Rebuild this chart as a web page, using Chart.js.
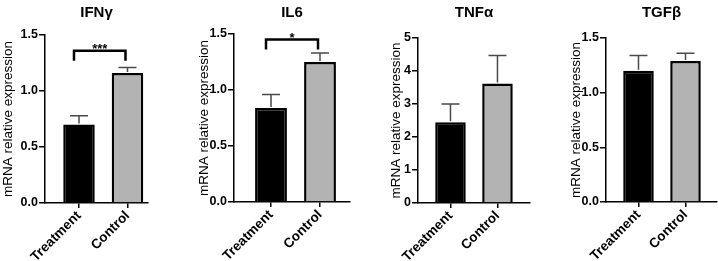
<!DOCTYPE html>
<html>
<head>
<meta charset="utf-8">
<script src="https://cdn.jsdelivr.net/npm/chart.js@4.4.0/dist/chart.umd.min.js"></script>
<style>
  body { margin: 0; background: #fff; width: 718px; height: 261px; position: relative; overflow: hidden; }
  canvas { position: absolute; top: 0; }
</style>
</head>
<body>
<canvas id="c0"></canvas>
<canvas id="c1"></canvas>
<canvas id="c2"></canvas>
<canvas id="c3"></canvas>
<script>
// data
const groups = ['Treatment', 'Control'];
const genes = ['IFNγ', 'IL6', 'TNFα', 'TGFβ'];
const treatmentMean = [0.70, 0.84, 2.45, 1.20];
const treatmentErr = [0.08, 0.12, 0.55, 0.14];
const controlMean = [1.16, 1.25, 3.62, 1.29];
const controlErr = [0.05, 0.08, 0.85, 0.07];
const yMax = [1.5, 1.5, 5, 1.5];
const yStep = [0.5, 0.5, 1, 0.5];
const yDecimals = [1, 1, 0, 1];
const sigMarks = ['***', '*', '', ''];
const sigLevel = [1.36, 1.45, null, null];

// panel placement
const panels = [
  { left: 0,   width: 150, axisW: 45, top: 35, bottom: 203, xMin: -0.701, xMax: 1.423, padR: 2 },
  { left: 196, width: 156, axisW: 38, top: 34, bottom: 202, xMin: -0.755, xMax: 1.612, padR: 2 },
  { left: 388, width: 144, axisW: 30, top: 38, bottom: 203, xMin: -0.691, xMax: 1.692, padR: 2 },
  { left: 568, width: 150, axisW: 38, top: 38, bottom: 202, xMin: -0.691, xMax: 1.670, padR: 1 }
];

const FONT = '"Liberation Sans", Arial, sans-serif';
Chart.defaults.font.family = FONT;
Chart.defaults.color = '#000';

// error bars + significance bracket
const extras = {
  id: 'extras',
  afterDatasetsDraw(chart, args, opts) {
    const ctx = chart.ctx;
    const ys = chart.scales.y;
    const bars = chart.getDatasetMeta(0).data;
    const vals = chart.data.datasets[0].data;
    ctx.save();
    ctx.strokeStyle = '#4a4a4a';
    ctx.lineWidth = 1.5;
    bars.forEach((bar, j) => {
      const y0 = ys.getPixelForValue(vals[j].y);
      const y1 = ys.getPixelForValue(vals[j].y + opts.errs[j]);
      ctx.beginPath();
      ctx.moveTo(bar.x, y0 - 1);
      ctx.lineTo(bar.x, y1);
      ctx.moveTo(bar.x - 9, y1);
      ctx.lineTo(bar.x + 9, y1);
      ctx.stroke();
    });
    if (opts.sig) {
      const yl = ys.getPixelForValue(opts.sigY);
      const xl = bars[0].x - 5, xr = bars[1].x - 2;
      ctx.strokeStyle = '#000';
      ctx.lineWidth = 2.5;
      ctx.beginPath();
      ctx.moveTo(xl, yl + 10);
      ctx.lineTo(xl, yl);
      ctx.lineTo(xr, yl);
      ctx.lineTo(xr, yl + 10);
      ctx.stroke();
      ctx.fillStyle = '#000';
      ctx.font = 'bold 13px ' + FONT;
      ctx.textAlign = 'center';
      ctx.textBaseline = 'alphabetic';
      ctx.fillText(opts.sig, (xl + xr) / 2, yl + 2);
    }
    ctx.restore();
  }
};

genes.forEach((gene, i) => {
  const p = panels[i];
  const cv = document.getElementById('c' + i);
  cv.width = p.width;
  cv.height = 261;
  cv.style.left = p.left + 'px';

  new Chart(cv, {
    type: 'bar',
    data: {
      datasets: [{
        data: [
          { x: 0, y: treatmentMean[i] },
          { x: 1, y: controlMean[i] }
        ],
        backgroundColor: ['#000000', '#b3b3b3'],
        borderColor: '#000',
        borderWidth: 2.5,
        barPercentage: 0.65,
        categoryPercentage: 1
      }]
    },
    options: {
      responsive: false,
      animation: false,
      layout: { padding: { left: 0, right: p.padR, top: 0, bottom: 0 } },
      scales: {
        x: {
          type: 'linear',
          offset: false,
          min: p.xMin,
          max: p.xMax,
          afterBuildTicks: s => { s.ticks = [{ value: 0 }, { value: 1 }]; },
          afterFit: s => {
            s.height = 261 - p.bottom;
            s.paddingLeft = 0; s.paddingRight = 0;
          },
          ticks: {
            minRotation: 45,
            maxRotation: 45,
            padding: 0,
            autoSkip: false,
            font: { size: 13.5, weight: 'bold' },
            callback: v => groups[v]
          },
          grid: { offset: false, drawOnChartArea: false, drawTicks: true, tickLength: 5, color: '#000', lineWidth: 1.5 },
          border: { display: true, color: '#000', width: 1.5 }
        },
        y: {
          min: 0,
          max: yMax[i],
          afterFit: s => {
            s.width = p.axisW;
            s.paddingTop = 0; s.paddingBottom = 0;
          },
          ticks: {
            stepSize: yStep[i],
            padding: 1,
            font: { size: 12.5, weight: 'bold' },
            callback: v => v.toFixed(yDecimals[i])
          },
          grid: { drawOnChartArea: false, drawTicks: true, tickLength: 6, color: '#000', lineWidth: 1.5 },
          border: { display: true, color: '#000', width: 1.5 },
          title: {
            display: true,
            text: 'mRNA relative expression',
            font: { size: 13.5 },
            padding: { top: 0, bottom: 0 }
          }
        }
      },
      plugins: {
        legend: { display: false },
        tooltip: { enabled: false },
        title: {
          display: true,
          text: gene,
          fullSize: false,
          font: { size: 15, weight: 'bold', lineHeight: 1.2 },
          padding: { top: 4, bottom: p.top - 4 - 18 }
        },
        extras: {
          errs: [treatmentErr[i], controlErr[i]],
          sig: sigMarks[i],
          sigY: sigLevel[i]
        }
      }
    },
    plugins: [extras]
  });
});
</script>
</body>
</html>
